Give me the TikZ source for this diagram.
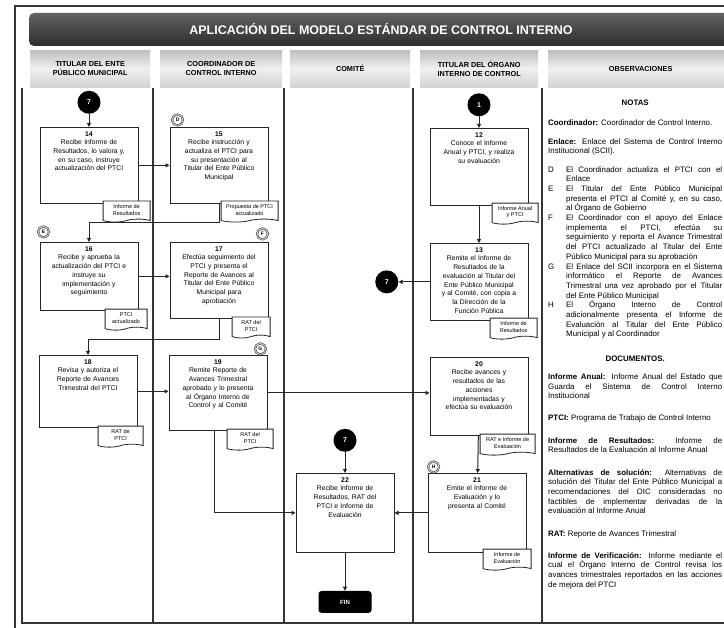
\documentclass[tikz,border=0pt]{standalone}
\usepackage{fontspec}
\setmainfont{Liberation Sans}
\usetikzlibrary{arrows.meta,positioning,calc,shapes.symbols}
\definecolor{inkdark}{HTML}{262626}
\definecolor{lanegray}{HTML}{353535}
\newcommand{\obsitem}[2]{\par\hangindent=18pt\hangafter=1\makebox[18pt][l]{#1}#2\par}
\newcommand{\nohyph}{\hyphenpenalty=10000\relax}
\tikzset{
  procbox/.style={
    draw=inkdark,
    line width=1pt,
    fill=white,
    anchor=north,
    text width=88pt,
    inner xsep=5pt,
    inner ysep=4pt,
    align=center,
    text depth=#1,
    font=\fontsize{6.8}{8.7}\selectfont
  },
  docnote/.style={
    draw=inkdark,
    line width=0.8pt,
    fill=white,
    shape=tape,
    tape bend top=none,
    tape bend height=3pt,
    align=center,
    inner sep=1.5pt,
    minimum height=21pt,
    font=\fontsize{5.5}{6.5}\selectfont
  },
  pageref/.style={circle,fill=black,text=white,minimum size=23pt,inner sep=0pt,
    font=\fontsize{7}{7}\selectfont\bfseries},
  letterdot/.style={circle,draw=inkdark,line width=0.5pt,double=gray!35,
    double distance=1pt,minimum size=11pt,inner sep=0pt,
    font=\fontsize{5}{5}\selectfont\bfseries},
  finbox/.style={rounded corners=3pt,fill=black,text=white,minimum width=53pt,
    minimum height=22pt,font=\fontsize{6}{6}\selectfont\bfseries},
  titlebar/.style={rounded corners=5pt,top color=black!62,bottom color=black!82,
    text=white,minimum width=704pt,minimum height=33pt,
    font=\fontsize{12.5}{14}\selectfont\bfseries},
  headcell/.style={top color=gray!50,bottom color=gray!35,middle color=gray!12,
    anchor=north west,minimum height=37pt,inner sep=0pt,align=center,
    font=\fontsize{7.3}{9}\selectfont\bfseries},
  obsnotes/.style={anchor=north west,text width=174pt,align=justify,inner sep=0pt,
    font=\fontsize{7.9}{9.7}\selectfont\nohyph},
  laneline/.style={draw=lanegray,line width=1.1pt},
  flow/.style={-{Triangle[length=4pt,width=4pt]},line width=1pt,draw=inkdark}
}
\begin{document}
\begin{tikzpicture}[x=1pt,y=-1pt,node distance=12pt]
\useasboundingbox[fill=white] (0,0) rectangle (724,628);

% marco y carriles
\draw[laneline] (15,628) -- (15,6) -- (724,6);
\draw[laneline] (22,88) -- (22,623) -- (724,623);
\foreach \x in {153,284,413,542}
  \draw[laneline] (\x,88) -- (\x,623);

% titulo y encabezados
\node[titlebar] (title) at (381,29.5) {APLICACIÓN DEL MODELO ESTÁNDAR DE CONTROL INTERNO};
\node[headcell,minimum width=120pt] (h1) at (30,50) {TITULAR DEL ENTE\\PÚBLICO MUNICIPAL};
\node[headcell,minimum width=122pt] (h2) at (160,50) {COORDINADOR DE\\CONTROL INTERNO};
\node[headcell,minimum width=120pt] (h3) at (290,50) {COMITÉ};
\node[headcell,minimum width=118pt] (h4) at (420,50) {TITULAR DEL ÓRGANO\\INTERNO DE CONTROL};
\node[headcell,minimum width=185pt] (h5) at (548,50) {OBSERVACIONES};

% actividades
\node[procbox=64pt] (b12) at (479,128) {\textbf{12}\\Conoce el Informe\\Anual y PTCI, y realiza\\su evaluación};
\node[procbox=64pt] (b13) at (479,243) {\textbf{13}\\Remite el Informe de\\Resultados de la\\evaluación al Titular del\\Ente Público Municipal\\y al Comité, con copia a\\la Dirección de la\\Función Pública};
\node[procbox=63pt] (b14) at (89,127) {\textbf{14}\\Recibe Informe de\\Resultados, lo valora y,\\en su caso, instruye\\actualización del PTCI};
\node[procbox=63pt] (b15) at (219,127) {\textbf{15}\\Recibe instrucción y\\actualiza el PTCI para\\su presentación al\\Titular del Ente Público\\Municipal};
\node[procbox=55pt] (b16) at (89,242) {\textbf{16}\\Recibe y aprueba la\\actualización del PTCI e\\instruye su\\implementación y\\seguimiento};
\node[procbox=63pt] (b17) at (219,242) {\textbf{17}\\Efectúa seguimiento del\\PTCI y presenta el\\Reporte de Avances al\\Titular del Ente Público\\Municipal para\\aprobación};
\node[procbox=59pt] (b18) at (88,355) {\textbf{18}\\Revisa y autoriza el\\Reporte de Avances\\Trimestral del PTCI};
\node[procbox=62pt] (b19) at (218,355) {\textbf{19}\\Remite Reporte de\\Avances Trimestral\\aprobado y lo presenta\\al Órgano Interno de\\Control y al Comité};
\node[procbox=65pt] (b20) at (479,357) {\textbf{20}\\Recibe avances y\\resultados de las\\acciones\\implementadas y\\efectúa su evaluación};
\node[procbox=66pt] (b21) at (477,473) {\textbf{21}\\Emite el Informe de\\Evaluación y lo\\presenta al Comité};
\node[procbox=66pt] (b22) at (345,473) {\textbf{22}\\Recibe Informe de\\Resultados, RAT del\\PTCI e Informe de\\Evaluación};

% documentos
\node[docnote,minimum width=46pt,below left=-3pt and -10pt of b12.south east] (d12) {Informe Anual\\y PTCI};
\node[docnote,minimum width=47pt,below left=-3pt and -9pt of b13.south east] (d13) {Informe de\\Resultados};
\node[docnote,minimum width=47pt,below left=-3pt and -12pt of b14.south east] (d14) {Informe de\\Resultados};
\node[docnote,minimum width=57pt,below left=-3pt and -10pt of b15.south east] (d15) {Propuesta de PTCI\\actualizado};
\node[docnote,minimum width=42pt,below left=-2pt and -9pt of b16.south east] (d16) {PTCI\\actualizado};
\node[docnote,minimum width=38pt,below left=-2pt and -2pt of b17.south east] (d17) {RAT del\\PTCI};
\node[docnote,minimum width=45pt,below left=-2pt and -6pt of b18.south east] (d18) {RAT de\\PTCI};
\node[docnote,minimum width=46pt,below left=-2pt and -6pt of b19.south east] (d19) {RAT del\\PTCI};
\node[docnote,minimum width=55pt,below left=-2pt and -7pt of b20.south east] (d20) {RAT e Informe de\\Evaluación};
\node[docnote,minimum width=48pt,below left=-4pt and -5pt of b21.south east] (d21) {Informe de\\Evaluación};

% conectores de pagina y fin
\node[pageref,above=11.5pt of b12] (c1) {1};
\node[pageref,left=31pt of b13] (c7b) {7};
\node[pageref,above=13pt of b14] (c7a) {7};
\node[pageref,above=21pt of b22] (c7c) {7};
\node[finbox,below=38pt of b22] (fin) {FIN};

% notas de referencia
\node[letterdot,above right=3pt and 4pt of b15.north west] (ld) {D};
\node[letterdot,above right=6pt and 0pt of b16.north west] (le) {E};
\node[letterdot,above left=4pt and 2pt of b17.north east] (lf) {F};
\node[letterdot,above left=2pt and 3pt of b19.north east] (lg) {G};
\node[letterdot,above right=2pt and 2pt of b21.north west] (lh) {H};

% flujo
\draw[flow] (c1) -- (b12);
\draw[flow] (b12) -- (b13);
\draw[flow] (b13) -- (c7b);
\draw[flow] (c7a) -- (b14);
\draw[flow] (b14) -- (b15);
\draw[flow] (b15.south) -- ++(0,19) -| (b16.north);
\draw[flow] (b16.east) -- (b16.east -| b17.west);
\draw[flow] (b17.south) -- ++(0,21) -| (b18.north);
\draw[flow] (b18.east) -- (b18.east -| b19.west);
\draw[flow] (b19.east) -- (b19.east -| b20.west);
\draw[flow] ([xshift=-4pt]b19.south) |- (b22.west);
\draw[flow] (b20) -- (b21);
\draw[flow] (b21) -- (b22);
\draw[flow] (c7c) -- (b22);
\draw[flow] (b22) -- (fin);

% observaciones
\node[obsnotes] (notas) at (548,100) {%
{\centering\textbf{NOTAS}\par}\vspace{10pt}
\textbf{Coordinador:} Coordinador de Control Interno.\par\vspace{9pt}
\textbf{Enlace:} Enlace del Sistema de Control Interno\linebreak Institucional (SCII).\par\vspace{8.5pt}
\obsitem{D}{El Coordinador actualiza el PTCI con el\linebreak Enlace}
\obsitem{E}{El Titular del Ente Público Municipal\linebreak presenta el PTCI al Comité y, en su caso,\linebreak al Órgano de Gobierno}
\obsitem{F}{El Coordinador con el apoyo del Enlace\linebreak implementa el PTCI, efectúa su\linebreak seguimiento y reporta el Avance Trimestral\linebreak del PTCI actualizado al Titular del Ente\linebreak Público Municipal para su aprobación}
\obsitem{G}{El Enlace del SCII incorpora en el Sistema\linebreak informático el Reporte de Avances\linebreak Trimestral una vez aprobado por el Titular\linebreak del Ente Público Municipal}
\obsitem{H}{El Órgano Interno de Control\linebreak adicionalmente presenta el Informe de\linebreak Evaluación al Titular del Ente Público\linebreak Municipal y al Coordinador}
\vspace{15pt}
{\centering\textbf{DOCUMENTOS.}\par}\vspace{8pt}
\textbf{Informe Anual:} Informe Anual del Estado que\linebreak Guarda el Sistema de Control Interno\linebreak Institucional\par\vspace{12.5pt}
\textbf{PTCI:} Programa de Trabajo de Control Interno\par\vspace{12.5pt}
\textbf{Informe de Resultados:} Informe de\linebreak Resultados de la Evaluación al Informe Anual\par\vspace{12.5pt}
\textbf{Alternativas de solución:} Alternativas de\linebreak solución del Titular del Ente Público Municipal a\linebreak recomendaciones del OIC consideradas no\linebreak factibles de implementar derivadas de la\linebreak evaluación al Informe Anual\par\vspace{12.5pt}
\textbf{RAT:} Reporte de Avances Trimestral\par\vspace{12.5pt}
\textbf{Informe de Verificación:} Informe mediante el\linebreak cual el Órgano Interno de Control revisa los\linebreak avances trimestrales reportados en las acciones\linebreak de mejora del PTCI};
\end{tikzpicture}
\end{document}
